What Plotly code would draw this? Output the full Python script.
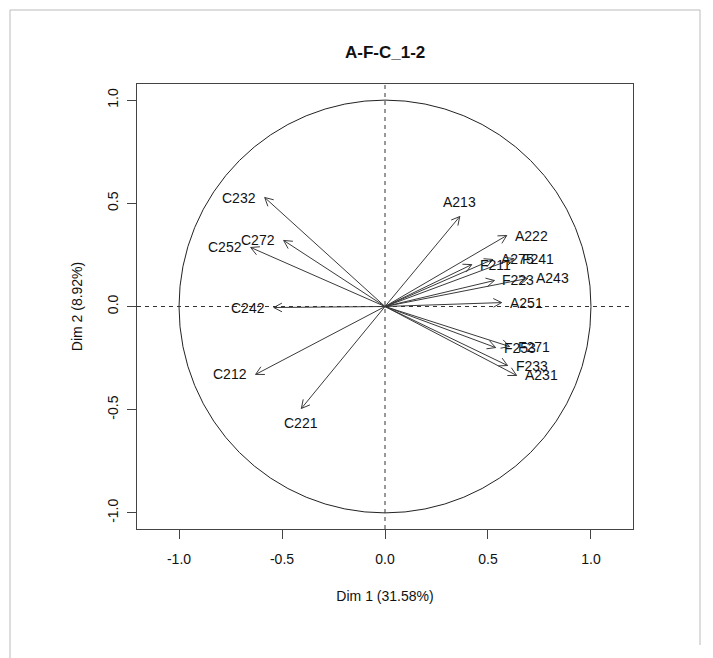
import numpy as np
import plotly.graph_objects as go

# ---- data ----
var_names = ["A213", "A222", "F211", "A275", "F241", "F223", "A243", "A251",
             "F253", "F271", "F233", "A231",
             "C232", "C272", "C252", "C242", "C212", "C221"]
dim1 = [0.363, 0.591, 0.421, 0.523, 0.625, 0.531, 0.693, 0.566,
        0.537, 0.605, 0.595, 0.639,
        -0.584, -0.492, -0.652, -0.540, -0.628, -0.406]
dim2 = [0.436, 0.344, 0.203, 0.228, 0.232, 0.126, 0.136, 0.019,
        -0.199, -0.194, -0.286, -0.334,
        0.528, 0.320, 0.286, -0.005, -0.329, -0.494]
title_text = "A-F-C_1-2"
x_title = "Dim 1 (31.58%)"
y_title = "Dim 2 (8.92%)"
tick_vals = [-1.0, -0.5, 0.0, 0.5, 1.0]
tick_text = ["-1.0", "-0.5", "0.0", "0.5", "1.0"]

# ---- layout geometry (pixels) ----
W, H = 713, 658
L, R, T, B = 137, 80, 84, 129
XR = [-1.204, 1.204]
YR = [-1.078, 1.078]
FONT = "Liberation Sans, Arial, Helvetica, sans-serif"
ARROW_COL = "#3a3a3a"

fig = go.Figure()

# arrows: shaft + open V head
head_len = 0.045
head_ang = np.deg2rad(28)
xs, ys = [], []
for x, y in zip(dim1, dim2):
    th = np.arctan2(y, x)
    xs += [0, x, None]
    ys += [0, y, None]
    for s in (1, -1):
        xs += [x, x - head_len * np.cos(th + s * head_ang), None]
        ys += [y, y - head_len * np.sin(th + s * head_ang), None]
fig.add_trace(go.Scatter(x=xs, y=ys, mode="lines",
                         line=dict(color=ARROW_COL, width=1),
                         hoverinfo="skip", showlegend=False))

# labels placed like FactoMineR (pos 1..4)
annotations = []
for name, x, y in zip(var_names, dim1, dim2):
    if abs(x) > abs(y):
        if x >= 0:
            a = dict(xanchor="left", yanchor="middle", xshift=6, yshift=0)
        else:
            a = dict(xanchor="right", yanchor="middle", xshift=-7, yshift=0)
    else:
        if y >= 0:
            a = dict(xanchor="center", yanchor="bottom", xshift=0, yshift=5)
        else:
            a = dict(xanchor="center", yanchor="top", xshift=0, yshift=-5)
    annotations.append(dict(x=x, y=y, xref="x", yref="y", text=name,
                            showarrow=False, font=dict(size=14, color="#111", family=FONT),
                            **a))

# title
annotations.append(dict(x=0.5, y=(H - 52 - B) / (H - T - B), xref="paper", yref="paper",
                        text="<b>%s</b>" % title_text, showarrow=False,
                        font=dict(size=17, color="#111", family=FONT),
                        xanchor="center", yanchor="middle"))

pw, ph = W - L - R, H - T - B
def px_x(p):
    return (p - L) / pw
def px_y(p):
    return (H - B - p) / ph

shapes = [
    dict(type="circle", xref="x", yref="y", x0=-1, y0=-1, x1=1, y1=1,
         line=dict(color="#222", width=1)),
    dict(type="line", xref="x", yref="paper", x0=0, x1=0, y0=0, y1=1,
         line=dict(color="#333", width=1, dash="4px,4px")),
    dict(type="line", xref="paper", yref="y", x0=0, x1=1, y0=0, y1=0,
         line=dict(color="#333", width=1, dash="4px,4px")),
    # outer frame of the picture
    dict(type="line", xref="paper", yref="paper", x0=px_x(10), x1=px_x(10),
         y0=px_y(10), y1=px_y(H), line=dict(color="#bbb", width=1)),
    dict(type="line", xref="paper", yref="paper", x0=px_x(10), x1=px_x(700),
         y0=px_y(10), y1=px_y(10), line=dict(color="#bbb", width=1)),
    dict(type="line", xref="paper", yref="paper", x0=px_x(700), x1=px_x(700),
         y0=px_y(10), y1=px_y(645), line=dict(color="#bbb", width=1)),
]

axis_common = dict(
    showgrid=False, zeroline=False, showline=True, mirror=True,
    linecolor="#444", linewidth=1, ticks="outside", ticklen=9,
    tickcolor="#444", tickwidth=1, tickvals=tick_vals, ticktext=tick_text,
    tickfont=dict(size=14, color="#111", family=FONT),
)

fig.update_layout(
    width=W, height=H,
    margin=dict(l=L, r=R, t=T, b=B),
    paper_bgcolor="white", plot_bgcolor="white",
    xaxis=dict(range=XR, ticklabelstandoff=8,
               title=dict(text=x_title, standoff=25,
                          font=dict(size=14, color="#111", family=FONT)),
               **axis_common),
    yaxis=dict(range=YR, tickangle=-90, ticklabelstandoff=3,
               title=dict(text=y_title, standoff=19,
                          font=dict(size=14, color="#111", family=FONT)),
               **axis_common),
    shapes=shapes, annotations=annotations,
)

fig.write_html("out.html")
